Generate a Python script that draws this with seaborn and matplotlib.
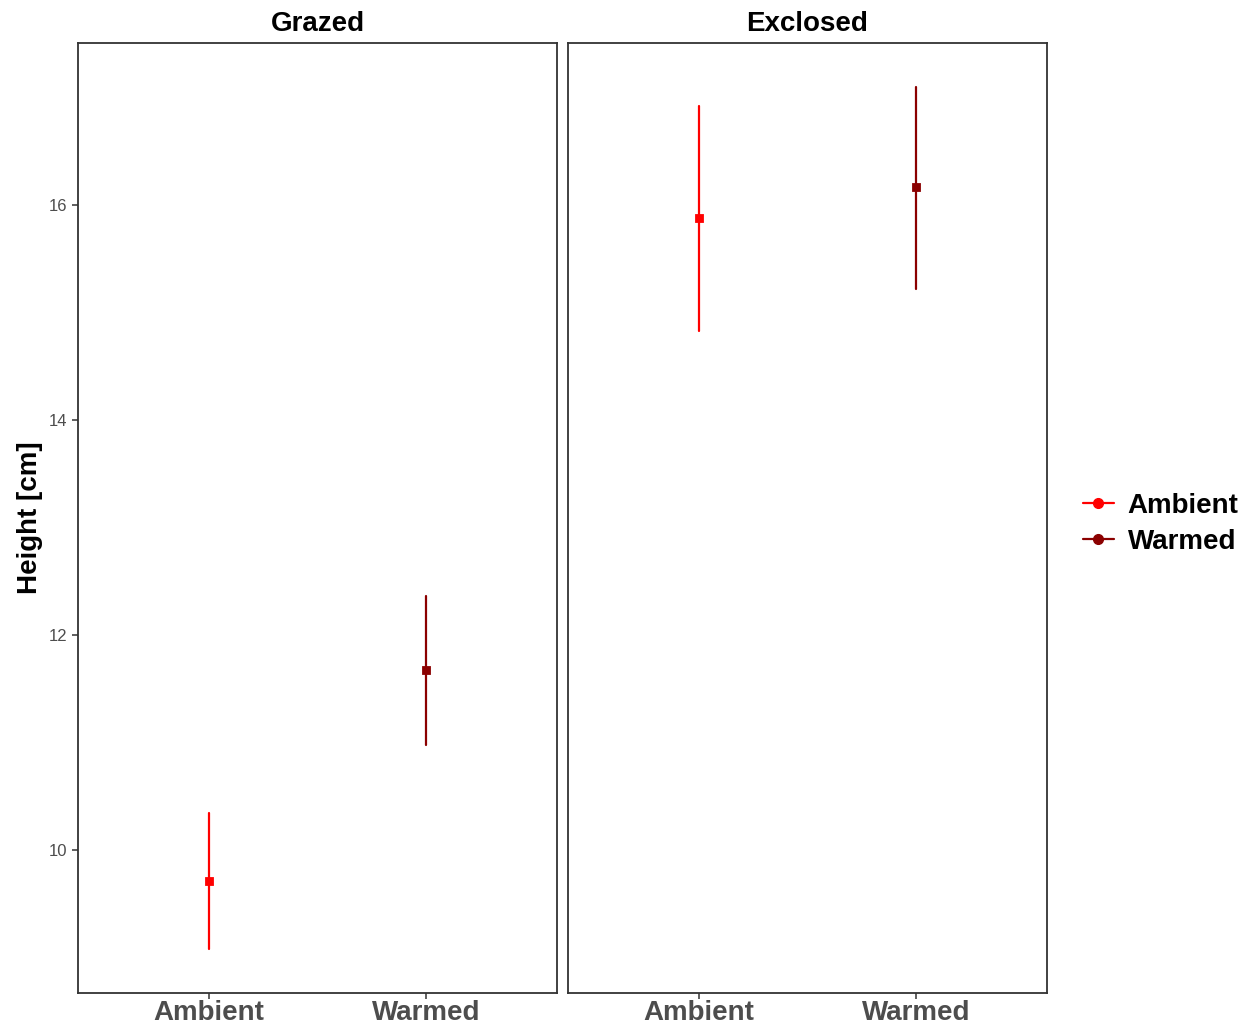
import seaborn as sns
import matplotlib.pyplot as plt
import pandas as pd
from matplotlib.lines import Line2D

# values (mean and error bar ends)
grazing = ['Grazed', 'Exclosed']
treatments = ['Ambient', 'Warmed']
means = {'Grazed': [9.71, 11.67], 'Exclosed': [15.88, 16.17]}
lows = {'Grazed': [9.08, 10.98], 'Exclosed': [14.83, 15.22]}
highs = {'Grazed': [10.34, 12.36], 'Exclosed': [16.92, 17.10]}
colors = ['#FF0000', '#8B0000']

# long table: low / mean / high per group -> median = mean, 100% interval = bar ends
rows = []
for g in grazing:
    for i, t in enumerate(treatments):
        for v in (lows[g][i], means[g][i], highs[g][i]):
            rows.append({'Grazing': g, 'Treatment': t, 'Height': v})
df = pd.DataFrame(rows)

sns.set_style('white')
plt.rcParams['font.family'] = ['Liberation Sans', 'DejaVu Sans']
plt.rcParams['text.color'] = 'black'
plt.rcParams['axes.labelcolor'] = 'black'

fig = plt.figure(figsize=(12.53, 10.29), dpi=100)
W, H = 1253, 1029
panels = [(78, 557), (568, 1047)]
top, bottom = 43, 993

for k, g in enumerate(grazing):
    x0, x1 = panels[k]
    ax = fig.add_axes([x0 / W, 1 - bottom / H, (x1 - x0) / W, (bottom - top) / H])
    sns.pointplot(data=df[df.Grazing == g], x='Treatment', y='Height', hue='Treatment',
                  order=treatments, hue_order=treatments, palette=colors,
                  estimator='median', errorbar=('pi', 100), markers='s',
                  linestyles='none', markersize=5, err_kws={'linewidth': 1.6},
                  legend=False, ax=ax)
    ax.set_xlim(-0.6, 1.6)
    ax.set_ylim(8.67, 17.507)
    ax.set_yticks([10, 12, 14, 16])
    ax.set_xlabel('')
    ax.set_title(g, fontsize=20, fontweight='bold', pad=8.5, color='black')
    for s in ax.spines.values():
        s.set_color('#333333')
        s.set_linewidth(1.3)
    ax.tick_params(axis='x', length=4, width=1.1, color='#333333', labelsize=20,
                   labelcolor='#4D4D4D', pad=1, bottom=True)
    for lbl in ax.get_xticklabels():
        lbl.set_fontweight('bold')
    if k == 0:
        ax.set_ylabel('Height [cm]', fontsize=20, fontweight='bold', labelpad=4)
        ax.tick_params(axis='y', length=4, width=1.1, color='#333333', labelsize=12,
                       labelcolor='#4D4D4D', left=True)
    else:
        ax.set_ylabel('')
        ax.tick_params(axis='y', left=False, labelleft=False)

handles = [Line2D([0], [0], color=c, marker='o', markersize=7, linewidth=1.6)
           for c in colors]
leg = fig.legend(handles, treatments, loc='center left', bbox_to_anchor=(1072 / W, 1 - 524 / H),
                 borderaxespad=0, frameon=False, handlelength=1.1, handletextpad=0.5,
                 labelspacing=0.35, prop={'size': 20, 'weight': 'bold'})

plt.savefig('out.png', dpi=100)
